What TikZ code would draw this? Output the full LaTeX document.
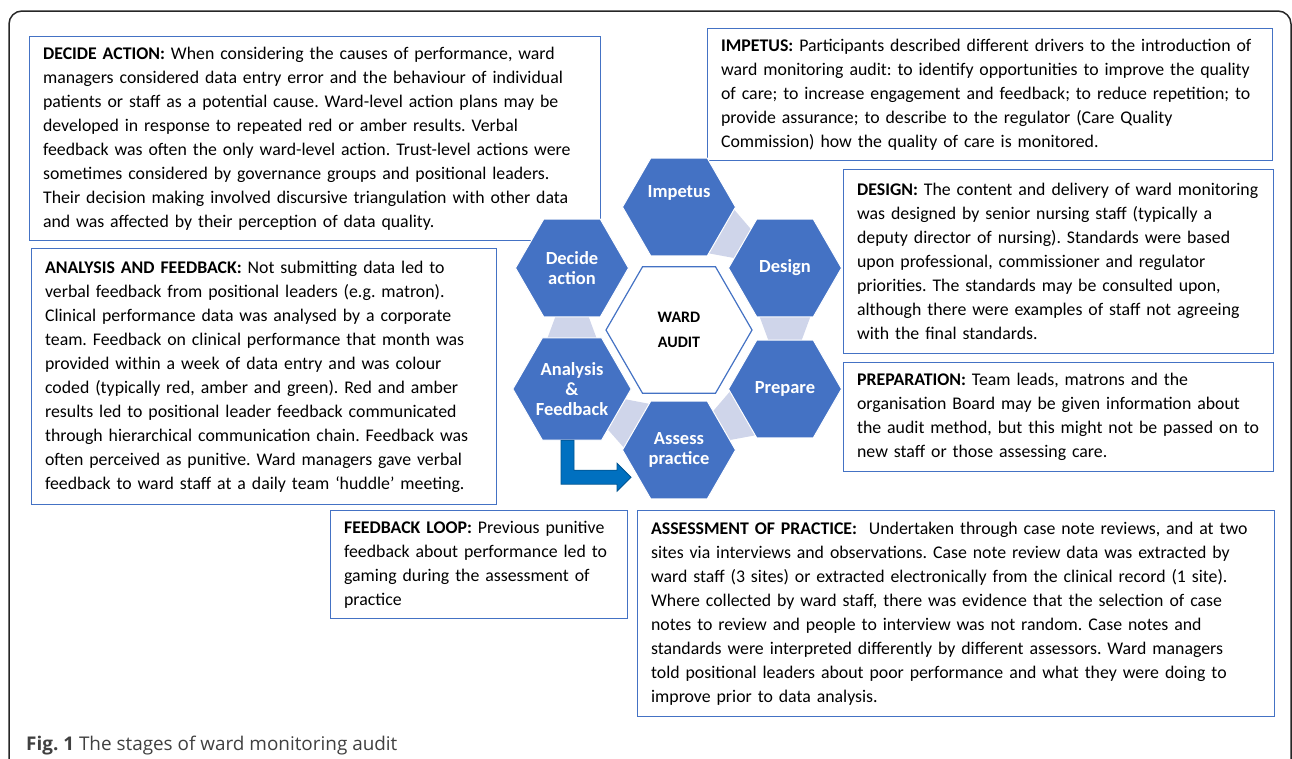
\documentclass[tikz,border=0pt]{standalone}
\usepackage{fontspec}
\setmainfont{Carlito}
\newfontfamily\capfont{Open Sans}
\usetikzlibrary{shapes.geometric,calc}
\definecolor{hexblue}{RGB}{68,114,196}
\definecolor{linkgrey}{RGB}{207,213,234}
\definecolor{arrowblue}{RGB}{0,112,192}
\definecolor{capgrey}{RGB}{64,64,64}
\frenchspacing

\begin{document}
\begin{tikzpicture}[x=1pt,y=-1pt,
stage/.style={regular polygon,regular polygon sides=6,minimum size=113pt,
inner sep=0pt,outer sep=0pt,fill=hexblue,draw=white,line width=1pt,
text=white,font=\fontsize{18.5}{20}\selectfont\bfseries,align=center},
core/.style={regular polygon,regular polygon sides=6,minimum size=146pt,
inner sep=0pt,fill=white,draw=hexblue,line width=1.2pt,
font=\fontsize{16}{25}\selectfont\bfseries,align=center},
note/.style={rectangle,draw=hexblue,line width=1.2pt,fill=white,
anchor=north west,align=left,inner xsep=13.5pt,inner ysep=0pt,
font=\fontsize{17.8}{24}\selectfont},
link/.style={fill=linkgrey},
fbarrow/.style={fill=arrowblue,draw=arrowblue!75!black,line width=0.8pt}
]
\useasboundingbox (0,0) rectangle (1292,758);

% moldura
\draw[rounded corners=13pt,line width=1.5pt,black!85] (9,11) rectangle (1291,800);

% caixas de texto
\node[note,text width=544pt,minimum height=204pt] (decnote) at (29,36)
{\textbf{DECIDE ACTION:} When considering the causes of performance, ward\\
managers considered data entry error and the behaviour of individual\\
patients or staff as a potential cause. Ward-level action plans may be\\
developed in response to repeated red or amber results. Verbal\\
feedback was often the only ward-level action. Trust-level actions were\\
sometimes considered by governance groups and positional leaders.\\
Their decision making involved discursive triangulation with other data\\
and was affected by their perception of data quality.};
\node[note,text width=538pt,minimum height=132pt] (impnote) at (707,28)
{\textbf{IMPETUS:} Participants described different drivers to the introduction of\\
ward monitoring audit: to identify opportunities to improve the quality\\
of care; to increase engagement and feedback; to reduce repetition; to\\
provide assurance; to describe to the regulator (Care Quality\\
Commission) how the quality of care is monitored.};
\node[note,text width=403pt,minimum height=184pt] (desnote) at (843,169)
{\textbf{DESIGN:} The content and delivery of ward monitoring\\
was designed by senior nursing staff (typically a\\
deputy director of nursing). Standards were based\\
upon professional, commissioner and regulator\\
priorities. The standards may be consulted upon,\\
although there were examples of staff not agreeing\\
with the final standards.};
\node[note,text width=403pt,minimum height=109pt] (prenote) at (843,362)
{\textbf{PREPARATION:} Team leads, matrons and the\\
organisation Board may be given information about\\
the audit method, but this might not be passed on to\\
new staff or those assessing care.};
\node[note,text width=438pt,minimum height=256pt] (ananote) at (31,248)
{\textbf{ANALYSIS AND FEEDBACK:} Not submitting data led to\\
verbal feedback from positional leaders (e.g. matron).\\
Clinical performance data was analysed by a corporate\\
team. Feedback on clinical performance that month was\\
provided within a week of data entry and was colour\\
coded (typically red, amber and green). Red and amber\\
results led to positional leader feedback communicated\\
through hierarchical communication chain. Feedback was\\
often perceived as punitive. Ward managers gave verbal\\
feedback to ward staff at a daily team ‘huddle’ meeting.};
\node[note,text width=270pt,minimum height=108pt] (loopnote) at (330,510)
{\textbf{FEEDBACK LOOP:} Previous punitive\\
feedback about performance led to\\
gaming during the assessment of\\
practice};
\node[note,text width=610pt,minimum height=206pt] (assnote) at (637,510)
{\textbf{ASSESSMENT OF PRACTICE:}\ \ Undertaken through case note reviews, and at two\\
sites via interviews and observations. Case note review data was extracted by\\
ward staff (3 sites) or extracted electronically from the clinical record (1 site).\\
Where collected by ward staff, there was evidence that the selection of case\\
notes to review and people to interview was not random. Case notes and\\
standards were interpreted differently by different assessors. Ward managers\\
told positional leaders about poor performance and what they were doing to\\
improve prior to data analysis.};

% ciclo de hexagonos
\coordinate (imp) at (679,207);
\coordinate (des) at (785,268);
\coordinate (pre) at (785,389);
\coordinate (ass) at (679,450);
\coordinate (ana) at (572,389);
\coordinate (dec) at (572,268);
\foreach \s/\t in {imp/des,des/pre,pre/ass,ass/ana,ana/dec}{
\coordinate (ms) at ($(\s)!47pt!(\t)$);
\coordinate (mt) at ($(\t)!47pt!(\s)$);
\fill[link] ($(ms)!26pt!90:(\t)$) -- ($(ms)!26pt!-90:(\t)$)
-- ($(mt)!16pt!90:(\s)$) -- ($(mt)!16pt!-90:(\s)$) -- cycle;
}
\node[stage] (impetus) at (imp) {\raisebox{14pt}[\height][\depth]{Impetus}};
\node[stage] (design) at (des) {Design};
\node[stage] (prepare) at (pre) {Prepare};
\node[stage] (assess) at (ass) {Assess\\practice};
\node[stage] (analysis) at (ana) {Analysis\\\&\\Feedback};
\node[stage] (decide) at (dec) {Decide\\action};
\node[core] (audit) at (679,330) {WARD\\AUDIT};

% seta de feedback
\draw[fbarrow] ([xshift=-11pt]analysis.south) -- ++(0,44) -- ++(56,0)
-- ++(0,7) -- ++(14,-14) -- ++(-14,-14) -- ++(0,7) -- ++(-43,0)
-- ++(0,-30) -- cycle;

\node[anchor=base west,inner sep=0pt,text=capgrey,
font=\capfont\fontsize{18.9}{22}\selectfont] (caption) at (26,750)
{\textbf{Fig. 1} The stages of ward monitoring audit};

\end{tikzpicture}
\end{document}
